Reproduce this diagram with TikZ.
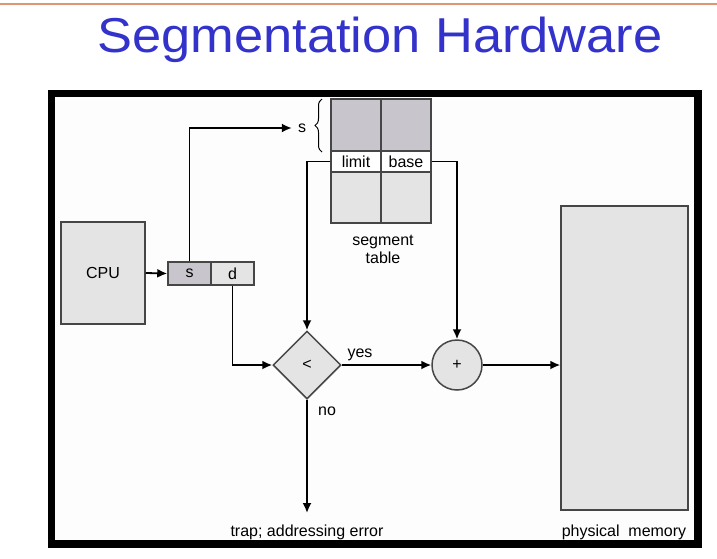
\documentclass[tikz,border=0pt]{standalone}
\usepackage{fontspec}
\setmainfont{Liberation Sans}
\usetikzlibrary{shapes.geometric,arrows.meta,decorations.pathreplacing}
\definecolor{titleblue}{RGB}{51,51,204}
\definecolor{topline}{RGB}{222,150,115}
\definecolor{boxline}{RGB}{70,70,70}
\definecolor{darkcell}{RGB}{200,198,204}
\definecolor{lightcell}{RGB}{228,228,228}
\begin{document}
\begin{tikzpicture}[x=1pt,y=-1pt,
  lbl/.style={font=\fontsize{16}{19}\selectfont, inner sep=0pt},
  box/.style={draw=boxline, line width=1.5pt, fill=lightcell, inner sep=0pt},
  dbox/.style={box, fill=darkcell},
  wbox/.style={box, fill=white},
  conn/.style={line width=1.8pt, black},
  arr/.style={conn, -{Latex[length=10pt,width=9pt]}}
]
\useasboundingbox (0,0) rectangle (717,558);
\fill[white] (0,0) rectangle (717,558);
% top rule
\draw[topline, line width=1.5pt] (0,4) -- (717,4);
% title
\node[font=\fontsize{49}{55}\selectfont, text=titleblue, anchor=base, xscale=1.07, inner sep=0pt] (title) at (380,52) {Segmentation Hardware};
% frame
\node[draw, line width=7.5pt, fill={rgb,255:red,253;green,253;blue,253}, minimum width=646.5pt, minimum height=450.5pt, inner sep=0pt] (frame) at (374.75,318.75) {};
% CPU
\node[box, lbl, minimum width=84pt, minimum height=102pt] (cpu) at (103,273) {CPU};
% logical address register
\node[dbox, lbl, minimum width=43pt, minimum height=23pt] (sreg) at (189.5,273.5) {s};
\node[box, lbl, minimum width=43pt, minimum height=23pt] (dreg) at (232.5,273.5) {d};
% segment table
\node[dbox, minimum width=50pt, minimum height=52pt] (t1) at (356,125) {};
\node[dbox, minimum width=50pt, minimum height=52pt] (t2) at (406,125) {};
\node[wbox, lbl, minimum width=50pt, minimum height=21pt] (limit) at (356,161.5) {limit};
\node[wbox, lbl, minimum width=50pt, minimum height=21pt] (base) at (406,161.5) {base};
\node[box, minimum width=50pt, minimum height=51pt] (t3) at (356,197.5) {};
\node[box, minimum width=50pt, minimum height=51pt] (t4) at (406,197.5) {};
\node[lbl, align=center, font=\fontsize{16}{18}\selectfont] (seglbl) at (383,249) {segment\\table};
% brace and s label
\draw[line width=1pt, decorate, decoration={brace, amplitude=7pt}] (322,152) -- (322,99);
\node[lbl] (slabel) at (302,128) {s};
% comparator and adder
\node[draw=boxline, line width=1.5pt, fill=lightcell, diamond, aspect=1, minimum size=68pt, inner sep=0pt, font=\fontsize{16}{19}\selectfont] (dia) at (307,365) {<};
\node[draw=boxline, line width=1.5pt, fill=lightcell, circle, minimum size=50pt, inner sep=0pt, font=\fontsize{16}{19}\selectfont] (add) at (457,365) {+};
% physical memory
\node[box, minimum width=127pt, minimum height=304pt] (phys) at (624.5,358) {};
% labels
\node[lbl, anchor=base] (yes) at (360,357) {yes};
\node[lbl, anchor=base] (no) at (327,415) {no};
\node[lbl, anchor=base] (trap) at (307,536) {trap; addressing error};
\node[lbl, anchor=base] (physlbl) at (624,536) {physical~~memory};
\coordinate (trapend) at (307,513);
% connectors
\draw[arr] (cpu.east) -- (sreg.west);
\draw[arr, shorten >=6pt] (sreg.north) |- (slabel.west);
\draw[arr] (limit.west) -| (dia.north);
\draw[arr] (base.east) -| (add.north);
\draw[arr] (dreg.south) |- (dia.west);
\draw[arr] (dia.east) -- (add.west);
\draw[arr] (add.east) -- (phys.west |- add.east);
\draw[arr] (dia.south) -- (trapend);
\end{tikzpicture}
\end{document}
